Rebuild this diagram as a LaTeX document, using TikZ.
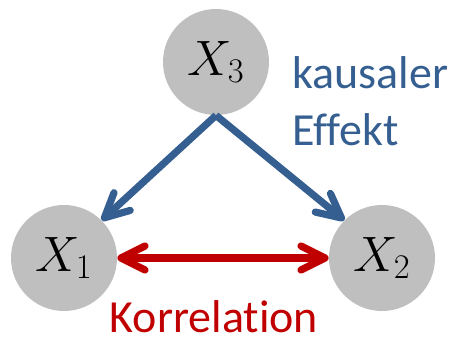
\documentclass[tikz,border=0pt]{standalone}
\usepackage{fontspec}
\newfontfamily\carlito[Ligatures=NoCommon]{Carlito}
\usetikzlibrary{arrows.meta, positioning}
\definecolor{effektblau}{HTML}{365F91}
\definecolor{korrrot}{HTML}{C00000}
\definecolor{knotengrau}{HTML}{BFBFBF}

\begin{document}
\begin{tikzpicture}[x=0.5pt, y=0.5pt,
  var/.style={circle, fill=knotengrau, minimum size=53pt, inner sep=0pt, font=\fontsize{23}{27}\selectfont},
  kausal/.style={draw=effektblau, line width=3.6pt, -{Straight Barb[length=12pt, width=12pt, round]}},
  korr/.style={draw=korrrot, line width=3.6pt, {Straight Barb[length=12pt, width=12pt, round]}-{Straight Barb[length=12pt, width=12pt, round]}},
  beschr/.style={font=\carlito\fontsize{23}{28.5}\selectfont, inner sep=0pt}]
\useasboundingbox (0,0) rectangle (457,339);

% Variablen
\node[var] (X3) at (216,277) {$X_3$};
\node[var] (X1) at (64,81) {$X_1$};
\node[var] (X2) at (382,81) {$X_2$};

% Pfeile
\draw[kausal] (X3.south) -- (X1.45);
\draw[kausal] (X3.south) -- (X2.135);
\draw[korr] (X1.east) -- (X2.west);

% Beschriftungen
\node[beschr, text=effektblau, align=left, anchor=base west] (kausaltext) at (292,194) {kausaler\\Effekt};
\node[beschr, text=korrrot, anchor=base] (korrtext) at (214,7) {Korrelation};
\end{tikzpicture}
\end{document}
